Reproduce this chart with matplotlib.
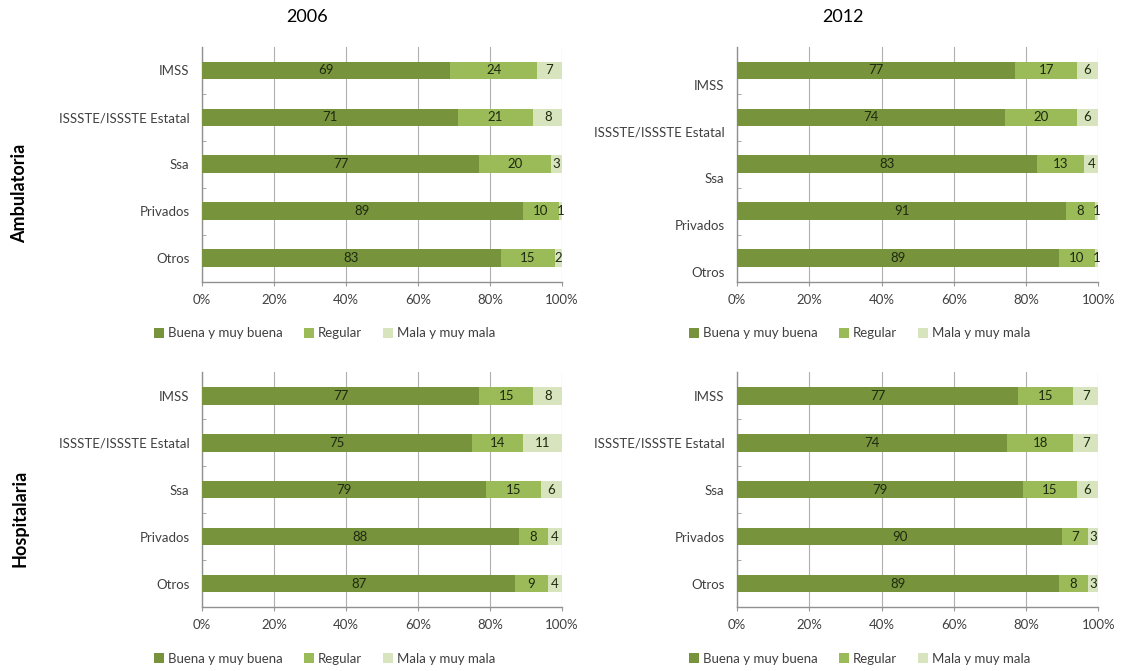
import numpy as np
import matplotlib
matplotlib.use("Agg")
import matplotlib.pyplot as plt

plt.rcParams['font.family'] = ['Lato', 'DejaVu Sans']

categories = ["IMSS", "ISSSTE/ISSSTE Estatal", "Ssa", "Privados", "Otros"]
series_names = ["Buena y muy buena", "Regular", "Mala y muy mala"]
colors = ["#77933C", "#9BBB59", "#D7E4BD"]

# Ambulatoria
amb_2006_buena = [69, 71, 77, 89, 83]
amb_2006_regular = [24, 21, 20, 10, 15]
amb_2006_mala = [7, 8, 3, 1, 2]

amb_2012_buena = [77, 74, 83, 91, 89]
amb_2012_regular = [17, 20, 13, 8, 10]
amb_2012_mala = [6, 6, 4, 1, 1]

# Hospitalaria
hosp_2006_buena = [77, 75, 79, 88, 87]
hosp_2006_regular = [15, 14, 15, 8, 9]
hosp_2006_mala = [8, 11, 6, 4, 4]

hosp_2012_buena = [77, 74, 79, 90, 89]
hosp_2012_regular = [15, 18, 15, 7, 8]
hosp_2012_mala = [7, 7, 6, 3, 3]

xticks = [0, 20, 40, 60, 80, 100]
xtick_labels = ["0%", "20%", "40%", "60%", "80%", "100%"]

fig = plt.figure(figsize=(11.22, 6.71), dpi=100)

panels = [
    ([0.180, 0.580, 0.321, 0.350], [amb_2006_buena, amb_2006_regular, amb_2006_mala], 0.0),
    ([0.657, 0.580, 0.322, 0.350], [amb_2012_buena, amb_2012_regular, amb_2012_mala], 0.3),
    ([0.180, 0.0954, 0.321, 0.350], [hosp_2006_buena, hosp_2006_regular, hosp_2006_mala], 0.0),
    ([0.657, 0.0954, 0.322, 0.350], [hosp_2012_buena, hosp_2012_regular, hosp_2012_mala], 0.0),
]

y = np.arange(len(categories))
for rect, data, label_shift in panels:
    ax = fig.add_axes(rect)
    total = np.array(data).sum(axis=0)
    left = np.zeros(len(categories))
    for vals, name, col in zip(data, series_names, colors):
        widths = np.array(vals) / total * 100
        bars = ax.barh(y, widths, left=left, height=0.38, color=col, label=name, zorder=3)
        for b, v, w in zip(bars, vals, widths):
            ax.text(b.get_x() + w / 2, b.get_y() + b.get_height() / 2, str(v),
                    ha="center", va="center", fontsize=9.5, color="#1e2a10", zorder=4)
        left += widths
    ax.set_xlim(0, 100)
    ax.set_ylim(4.5, -0.5)
    ax.set_xticks(xticks)
    ax.set_xticklabels(xtick_labels)
    ax.set_yticks(y + label_shift)
    ax.set_yticklabels(categories)
    ax.set_yticks(np.arange(0.5, 4.5, 1.0), minor=True)
    ax.tick_params(axis="y", which="major", length=0, pad=9, labelsize=9.5, labelcolor="#404040")
    ax.tick_params(axis="y", which="minor", length=3, color="#999999", direction="in")
    ax.tick_params(axis="x", length=3, color="#999999", labelsize=9.5, labelcolor="#404040", pad=6)
    ax.grid(axis="x", color="#b0b0b0", linewidth=0.8, zorder=0)
    for s in ["top", "right"]:
        ax.spines[s].set_visible(False)
    for s in ["left", "bottom"]:
        ax.spines[s].set_color("#909090")
        ax.spines[s].set_linewidth(1.0)
    ax.legend(loc="center", bbox_to_anchor=(0.34, -0.22), ncol=3, frameon=False,
              fontsize=9.5, handlelength=0.75, handleheight=0.75, handletextpad=0.3,
              columnspacing=1.6, labelcolor="#404040")

fig.text(307 / 1122, 1 - 17 / 671, "2006", ha="center", va="center", fontsize=13)
fig.text(843 / 1122, 1 - 17 / 671, "2012", ha="center", va="center", fontsize=13)
fig.text(20 / 1122, 1 - 193 / 671, "Ambulatoria", rotation=90, ha="center", va="center",
         fontsize=13, fontweight="bold")
fig.text(20 / 1122, 1 - 518 / 671, "Hospitalaria", rotation=90, ha="center", va="center",
         fontsize=13, fontweight="bold")

plt.savefig("out.png", dpi=100)
